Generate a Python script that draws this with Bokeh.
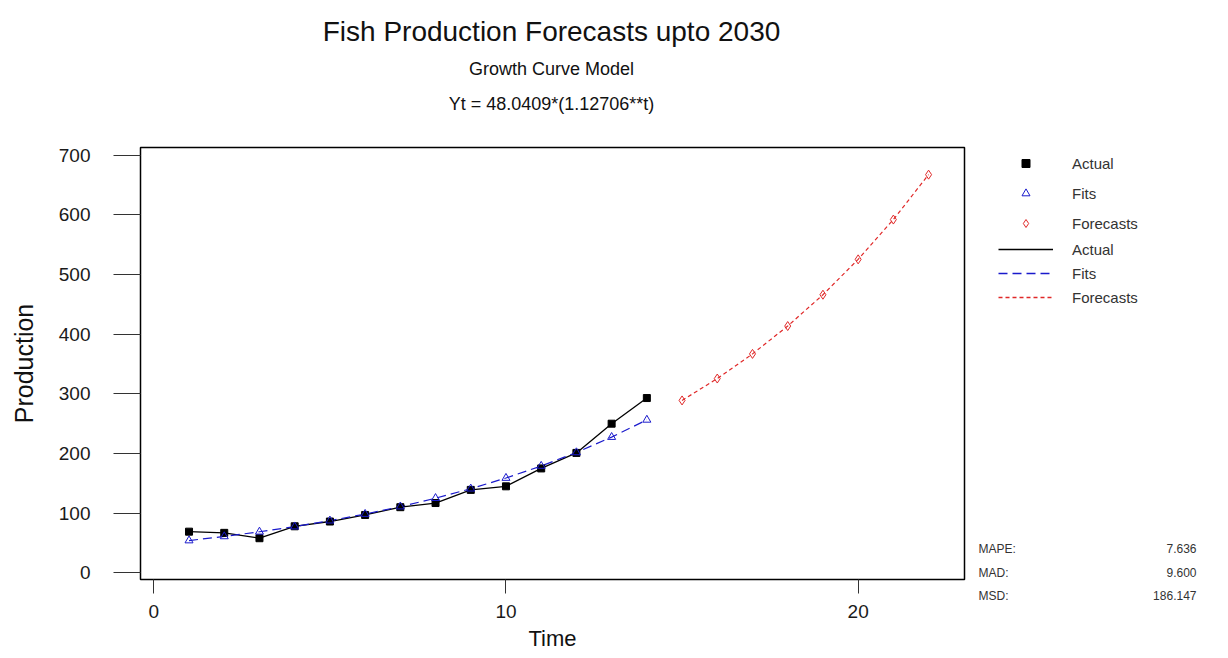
from bokeh.plotting import figure
from bokeh.models import Range1d, Legend, LegendItem, FixedTicker
from bokeh.layouts import column, row
from bokeh.core.properties import value
from bokeh.embed import file_html
from bokeh.resources import INLINE

# ---- data ----
time_actual = [1, 2, 3, 4, 5, 6, 7, 8, 9, 10, 11, 12, 13, 14]
actual = [69, 67, 58, 78, 86, 97, 110, 117, 139, 145, 175, 201, 250, 293]
fits = [54.1, 61.0, 68.8, 77.5, 87.4, 98.5, 111.0, 125.1, 141.0, 158.9, 179.1, 201.8, 227.5, 256.4]
time_forecast = [15, 16, 17, 18, 19, 20, 21, 22]
forecasts = [289.0, 325.7, 367.0, 413.7, 466.2, 525.5, 592.2, 667.5]

x_ticks = [0, 10, 20]
y_ticks = [0, 100, 200, 300, 400, 500, 600, 700]

title_text = "Fish Production Forecasts upto 2030"
subtitle_text = "Growth Curve Model"
equation_text = "Yt = 48.0409*(1.12706**t)"
stat_names = ["MAPE:", "MAD:", "MSD:"]
stat_values = ["7.636", "9.600", "186.147"]

FONT = "Liberation Sans"
BLUE = "#1a1acc"
RED = "#e02828"

W, H = 1228, 658
TOP_H = 145
MAIN_W = 966
SIDE_W = W - MAIN_W
BODY_H = H - TOP_H
FRAME_L, FRAME_R = 140, 964


def blank(fig):
    fig.xgrid.visible = False
    fig.ygrid.visible = False
    fig.outline_line_color = None
    fig.background_fill_color = "white"
    fig.border_fill_color = "white"


# ---- title strip (its frame is aligned with the main frame; coords = page pixels) ----
top = figure(width=MAIN_W, height=TOP_H, x_range=Range1d(FRAME_L, FRAME_R),
             y_range=Range1d(TOP_H, 0),
             output_backend="svg", toolbar_location=None,
             x_axis_location=None, y_axis_location=None,
             min_border=0, min_border_left=0, min_border_right=0,
             min_border_top=0, min_border_bottom=0)
blank(top)
top.text(x=[551], y=[31], text=[title_text], text_font=value(FONT), text_font_size="28px",
         text_color="#111111", text_align="center", text_baseline="middle")
top.text(x=[551], y=[68], text=[subtitle_text], text_font=value(FONT), text_font_size="18px",
         text_color="#111111", text_align="center", text_baseline="middle")
top.text(x=[551], y=[103], text=[equation_text], text_font=value(FONT), text_font_size="18px",
         text_color="#111111", text_align="center", text_baseline="middle")

# ---- main plot ----
p = figure(width=MAIN_W, height=BODY_H,
           x_range=Range1d(-0.378, 23.02), y_range=Range1d(-11.2, 713),
           output_backend="svg", toolbar_location=None,
           min_border_left=FRAME_L, min_border_right=MAIN_W - FRAME_R,
           min_border_top=2, min_border_bottom=79)
p.xgrid.visible = False
p.ygrid.visible = False
p.outline_line_color = "black"
p.outline_line_width = 1.5
p.outline_line_alpha = 1.0
p.background_fill_color = "white"
p.border_fill_color = "white"

p.line(time_actual, actual, line_color="black", line_width=1.3)
p.line(time_actual, fits, line_color=BLUE, line_width=1.2, line_dash="9 5")
p.line(time_forecast, forecasts, line_color=RED, line_width=1.2, line_dash="4 3")
p.scatter(time_actual, actual, marker="square", size=7, fill_color="black", line_color="black")
p.scatter(time_actual, fits, marker="triangle", size=8, fill_color=None, line_color=BLUE,
          line_width=1)
p.scatter(time_forecast, forecasts, marker="diamond", size=9, fill_color=None,
          line_color=RED, line_width=1)

xa = p.xaxis[0]
xa.ticker = FixedTicker(ticks=x_ticks)
xa.major_tick_out = 14
xa.major_tick_in = 0
xa.minor_tick_line_color = None
xa.major_tick_line_color = "#333333"
xa.axis_line_color = "black"
xa.major_label_text_font = FONT
xa.major_label_text_font_size = "19px"
xa.major_label_text_color = "#1a1a1a"
xa.major_label_standoff = 11
xa.axis_label = "Time"
xa.axis_label_text_font = FONT
xa.axis_label_text_font_style = "normal"
xa.axis_label_text_font_size = "22px"
xa.axis_label_text_color = "#111111"
xa.axis_label_standoff = 5

ya = p.yaxis[0]
ya.ticker = FixedTicker(ticks=y_ticks)
ya.major_tick_out = 27
ya.major_tick_in = 0
ya.minor_tick_line_color = None
ya.major_tick_line_color = "#333333"
ya.axis_line_color = "black"
ya.major_label_text_font = FONT
ya.major_label_text_font_size = "19px"
ya.major_label_text_color = "#1a1a1a"
ya.major_label_standoff = 23
ya.axis_label = "Production"
ya.axis_label_text_font = FONT
ya.axis_label_text_font_style = "normal"
ya.axis_label_text_font_size = "25px"
ya.axis_label_text_color = "#111111"
ya.axis_label_standoff = 18

# ---- side panel: legend keys and accuracy measures (page pixel coordinates) ----
side = figure(width=SIDE_W, height=H, x_range=Range1d(MAIN_W, W),
              y_range=Range1d(H, 0), output_backend="svg", toolbar_location=None,
              x_axis_location=None, y_axis_location=None,
              min_border=0, min_border_left=0, min_border_right=0,
              min_border_top=0, min_border_bottom=0)
blank(side)

# key renderers reuse the series; their data lie outside this panel's ranges
k_as = side.scatter(time_actual, actual, marker="square", size=7,
                    fill_color="black", line_color="black")
k_fs = side.scatter(time_actual, fits, marker="triangle", size=8,
                    fill_color=None, line_color=BLUE)
k_cs = side.scatter(time_forecast, forecasts, marker="diamond", size=9,
                    fill_color=None, line_color=RED)
k_al = side.line(time_actual, actual, line_color="black", line_width=1.3)
k_fl = side.line(time_actual, fits, line_color=BLUE, line_width=1.3, line_dash="9 5")
k_cl = side.line(time_forecast, forecasts, line_color=RED, line_width=1.3, line_dash="4 3")

common = dict(padding=0, margin=0, border_line_color=None, background_fill_alpha=0,
              glyph_width=55, glyph_height=20, label_height=20, label_standoff=19,
              label_text_font=FONT, label_text_font_size="15px",
              label_text_color="#333333")
leg1 = Legend(items=[LegendItem(label="Actual", renderers=[k_as]),
                     LegendItem(label="Fits", renderers=[k_fs]),
                     LegendItem(label="Forecasts", renderers=[k_cs])],
              location=(32, 425), spacing=10, **common)
leg2 = Legend(items=[LegendItem(label="Actual", renderers=[k_al]),
                     LegendItem(label="Fits", renderers=[k_fl]),
                     LegendItem(label="Forecasts", renderers=[k_cl])],
              location=(32, 351), spacing=4, **common)
side.add_layout(leg1)
side.add_layout(leg2)

stat_y = [548, 572, 595]
side.text(x=[978] * 3, y=stat_y, text=stat_names, text_font=value(FONT),
          text_font_size="12px", text_color="#333333", text_align="left",
          text_baseline="middle")
side.text(x=[1196] * 3, y=stat_y, text=stat_values, text_font=value(FONT),
          text_font_size="12px", text_color="#333333", text_align="right",
          text_baseline="middle")

layout = row(column(top, p), side)
open("out.html", "w").write(file_html(layout, INLINE))
